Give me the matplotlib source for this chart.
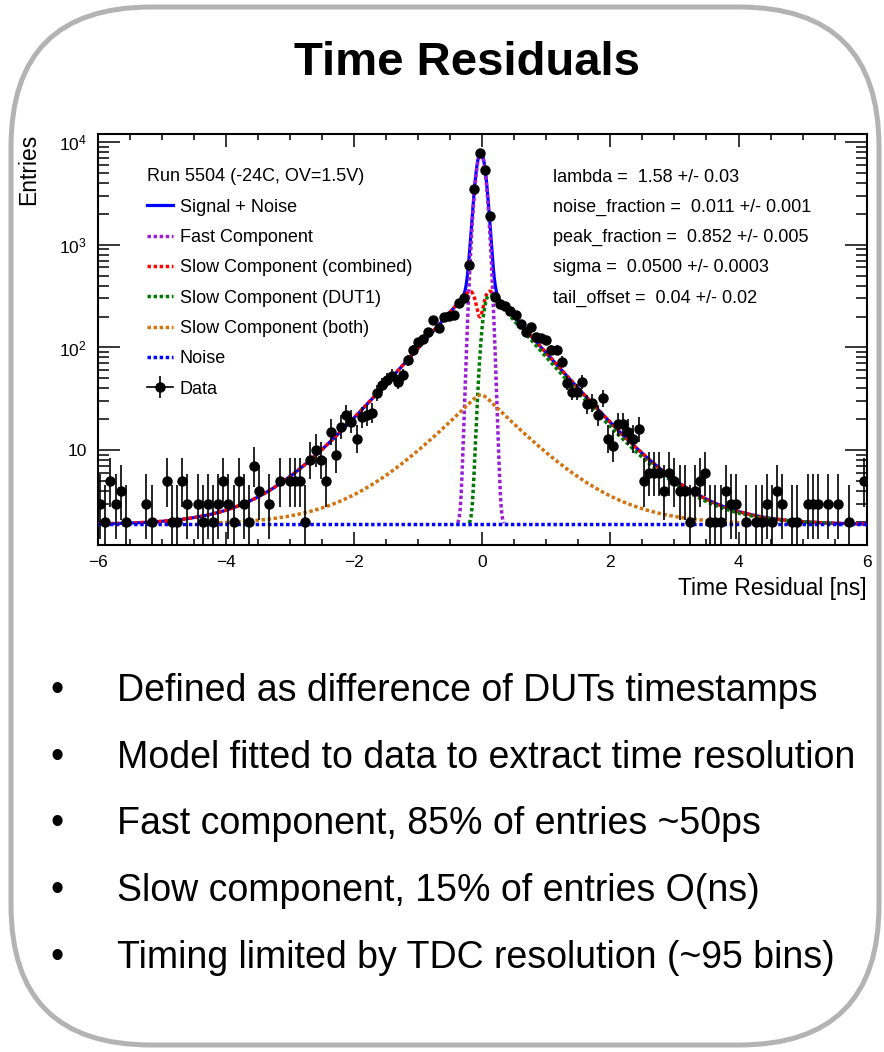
import math
import numpy as np
import matplotlib.pyplot as plt
from matplotlib.lines import Line2D
from matplotlib.legend_handler import HandlerTuple
from matplotlib.patches import FancyBboxPatch
from matplotlib.ticker import LogLocator, FuncFormatter, MultipleLocator, NullFormatter

plt.rcParams['font.family'] = ['Liberation Sans', 'DejaVu Sans']
plt.rcParams['mathtext.fontset'] = 'custom'
plt.rcParams['mathtext.rm'] = 'Liberation Sans'
plt.rcParams['mathtext.it'] = 'Liberation Sans:italic'

# histogram of time residuals: 150 bins of 0.08 ns from -6 to 6 ns
x_lo, x_hi, n_bins = -6.0, 6.0, 150
counts = [
    3, 2, 5, 3, 4, 2, 0, 0, 0, 3,
    2, 0, 0, 5, 2, 2, 5, 3, 0, 3,
    2, 3, 2, 3, 5, 3, 2, 5, 3, 2,
    7, 4, 0, 3, 0, 5, 0, 5, 5, 5,
    2, 8, 10, 8, 5, 15, 9, 17, 22, 19,
    13, 21, 22, 23, 36, 43, 48, 53, 46, 54,
    75, 94, 114, 121, 140, 185, 156, 200, 203, 209,
    270, 304, 628, 3470, 7730, 5360, 1890, 311, 263, 255,
    225, 205, 171, 143, 158, 127, 125, 119, 95, 94,
    73, 45, 37, 37, 46, 28, 29, 22, 32, 13,
    11, 18, 18, 15, 13, 16, 5, 6, 6, 6,
    4, 6, 5, 4, 4, 2, 4, 5, 6, 2,
    2, 2, 4, 3, 3, 0, 2, 0, 2, 2,
    3, 2, 4, 3, 0, 2, 2, 0, 3, 3,
    3, 0, 3, 0, 3, 0, 2, 0, 0, 5,
]

# fit result box
fit_names = ["lambda", "noise_fraction", "peak_fraction", "sigma", "tail_offset"]
fit_values = ["1.58 +/- 0.03", "0.011 +/- 0.001", "0.852 +/- 0.005",
              "0.0500 +/- 0.0003", "0.04 +/- 0.02"]

# shape of the drawn model curves (counts per bin)
noise_level = 1.9
fast_amp, fast_mean, fast_sigma = 7700.0, -0.022, 0.075
slow_amp, slow_rate, slow_sigma = 400.0, 1.65, 0.06
dut1_start, dut2_start = 0.012, -0.082
both_amp, both_rate, both_center = 35.0, 1.5, -0.02

bullets = [
    "Defined as difference of DUTs timestamps",
    "Model fitted to data to extract time resolution",
    "Fast component, 85% of entries ~50ps",
    "Slow component, 15% of entries O(ns)",
    "Timing limited by TDC resolution (~95 bins)",
]


def norm_cdf(z):
    return np.array([0.5 * math.erfc(-v / math.sqrt(2.0)) for v in z])


def exp_tail(x, start, rate, smear, direction):
    # one sided exponential smeared by a gaussian
    d = direction * (x - start)
    k = rate * smear
    return np.exp(0.5 * k * k - rate * d) * norm_cdf(d / smear - k)


def poisson_cdf(k, mu):
    term = math.exp(-mu)
    s = term
    for i in range(1, k + 1):
        term *= mu / i
        s += term
    return s


def poisson_interval(n, p=0.158655):
    if n > 100:
        return n - math.sqrt(n), n + math.sqrt(n)
    a, b = float(n), n + 6 * math.sqrt(n) + 6
    for _ in range(60):
        m = 0.5 * (a + b)
        if poisson_cdf(n, m) > p:
            a = m
        else:
            b = m
    hi = 0.5 * (a + b)
    if n == 0:
        return 0.0, hi
    a, b = 0.0, float(n)
    for _ in range(60):
        m = 0.5 * (a + b)
        if poisson_cdf(n - 1, m) > 1 - p:
            a = m
        else:
            b = m
    return 0.5 * (a + b), hi


edges = np.linspace(x_lo, x_hi, n_bins + 1)
centers = 0.5 * (edges[1:] + edges[:-1])
n = np.array(counts, dtype=float)
keep = n > 0
xd, yd = centers[keep], n[keep]
iv = np.array([poisson_interval(int(v)) for v in yd])
yerr = np.vstack([yd - iv[:, 0], iv[:, 1] - yd])

xs = np.linspace(x_lo, x_hi, 2401)
fast = fast_amp * np.exp(-0.5 * ((xs - fast_mean) / fast_sigma) ** 2)
dut1 = slow_amp * exp_tail(xs, dut1_start, slow_rate, slow_sigma, 1)
dut2 = slow_amp * exp_tail(xs, dut2_start, slow_rate, slow_sigma, -1)
both = both_amp * (exp_tail(xs, both_center, both_rate, slow_sigma, 1)
                   + exp_tail(xs, both_center, both_rate, slow_sigma, -1))
noise = np.full_like(xs, noise_level)
slow = dut1 + dut2 + both
total = fast + slow + noise

fig = plt.figure(figsize=(8.84, 10.52), dpi=100)

# rounded frame of the slide panel
bg = fig.add_axes([0, 0, 1, 1], zorder=-1)
bg.set_xlim(0, 884)
bg.set_ylim(1052, 0)
bg.axis('off')
bg.add_patch(FancyBboxPatch((11, 7), 868, 1038,
                            boxstyle='round,pad=0,rounding_size=140',
                            facecolor='white', edgecolor='#b3b3b3', linewidth=3.6))

ax = fig.add_axes([0.1105, 0.4819, 0.8699, 0.3907])

dot = (0, (1.0, 0.75))
ax.plot(xs, total, color='#0000ff', lw=2.3, zorder=3)
ax.plot(xs, np.where(fast > 0.05, fast + noise, np.nan), color='#9b1fd6', lw=2.5, ls=dot, zorder=4)
ax.plot(xs, slow + noise, color='#ff0000', lw=2.5, ls=dot, zorder=5)
ax.plot(xs, np.where(dut1 > 0.05, dut1 + noise, np.nan), color='#007a00', lw=2.5, ls=dot, zorder=6)
ax.plot(xs, np.where(both > 0.05, both + noise, np.nan), color='#d2730f', lw=2.5, ls=dot, zorder=7)
ax.plot(xs, noise, color='#0000ff', lw=2.5, ls=dot, zorder=8)
ax.errorbar(xd, yd, yerr=yerr, fmt='o', color='black', ms=6.5, elinewidth=1.2,
            capsize=0, zorder=10)

ax.set_yscale('log')
ax.set_xlim(x_lo, x_hi)
ax.set_ylim(1.2, 11900)
ax.xaxis.set_major_locator(MultipleLocator(2))
ax.xaxis.set_minor_locator(MultipleLocator(0.5))
ax.yaxis.set_major_locator(LogLocator(base=10, numticks=10))
ax.yaxis.set_minor_locator(LogLocator(base=10, subs=np.arange(2, 10), numticks=20))
ax.yaxis.set_minor_formatter(NullFormatter())


def log_label(v, pos):
    e = int(round(math.log10(v)))
    return '10' if e == 1 else r'$\mathregular{10^{%d}}$' % e


ax.yaxis.set_major_formatter(FuncFormatter(log_label))
ax.tick_params(which='both', direction='in', top=True, right=True, width=1.1,
               labelsize=12.5, colors='black')
ax.tick_params(axis='x', which='major', length=9.2, pad=7)
ax.tick_params(axis='x', which='minor', length=4.6)
ax.tick_params(axis='y', which='major', length=15.6, pad=8)
ax.tick_params(axis='y', which='minor', length=8)
for sp in ax.spines.values():
    sp.set_linewidth(1.5)

fig.text(0.0325, 0.8726, 'Entries', rotation=90, ha='center', va='top', fontsize=16.5)
fig.text(0.9804, 1 - 589 / 1052, 'Time Residual [ns]', ha='right', va='center', fontsize=16.5)

handles = [
    Line2D([], [], color='#0000ff', lw=2.3),
    Line2D([], [], color='#9b1fd6', lw=2.5, ls=dot),
    Line2D([], [], color='#ff0000', lw=2.5, ls=dot),
    Line2D([], [], color='#007a00', lw=2.5, ls=dot),
    Line2D([], [], color='#d2730f', lw=2.5, ls=dot),
    Line2D([], [], color='#0000ff', lw=2.5, ls=dot),
    (Line2D([], [], color='black', lw=1.2, marker='o', ms=6.5),
     Line2D([], [], ls='none', marker='|', ms=16, mew=1.2, color='black')),
]
labels = ["Signal + Noise", "Fast Component", "Slow Component (combined)",
          "Slow Component (DUT1)", "Slow Component (both)", "Noise", "Data"]
ax.legend(handles, labels, loc='upper left', bbox_to_anchor=(0.0645, 0.917),
          frameon=False, fontsize=13, title='Run 5504 (-24C, OV=1.5V)',
          title_fontsize=13, alignment='left', handlelength=1.4, handletextpad=0.4,
          labelspacing=0.74, borderpad=0, borderaxespad=0,
          handler_map={tuple: HandlerTuple(ndivide=1)})

for i, (name, val) in enumerate(zip(fit_names, fit_values)):
    ax.text(0.5917, 0.895 - 0.0735 * i, f"{name} =  {val}", transform=ax.transAxes,
            ha='left', va='center', fontsize=13)

fig.text(0.528, 1 - 63 / 1052, 'Time Residuals', ha='center', va='center',
         fontsize=34, fontweight='bold')

for i, line in enumerate(bullets):
    yb = 1 - (701 + 66.7 * i) / 1052
    fig.text(57 / 884, yb, '\u2022', ha='center', va='baseline', fontsize=27)
    fig.text(117 / 884, yb, line, ha='left', va='baseline', fontsize=27)

fig.savefig('out.png', dpi=100)
